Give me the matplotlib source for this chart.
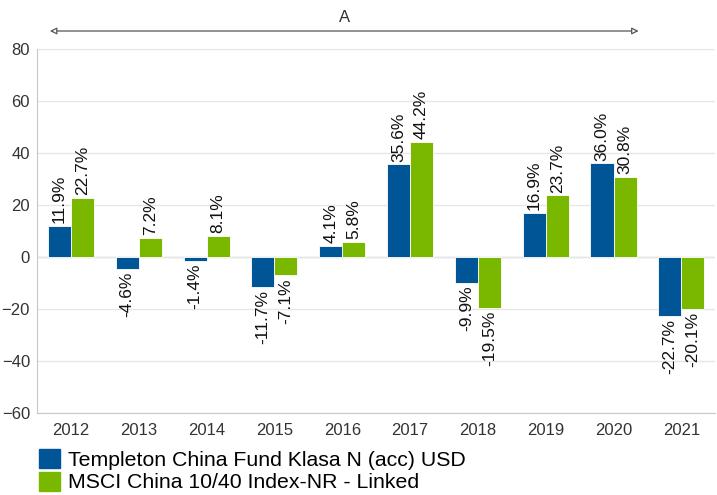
import numpy as np
import matplotlib
matplotlib.use('Agg')
import matplotlib.pyplot as plt
from matplotlib.patches import Patch
from matplotlib.transforms import blended_transform_factory

plt.rcParams['font.family'] = ['Liberation Sans', 'DejaVu Sans']

years = ['2012', '2013', '2014', '2015', '2016', '2017', '2018', '2019', '2020', '2021']
fund = [11.9, -4.6, -1.4, -11.7, 4.1, 35.6, -9.9, 16.9, 36.0, -22.7]
index = [22.7, 7.2, 8.1, -7.1, 5.8, 44.2, -19.5, 23.7, 30.8, -20.1]
names = ['Templeton China Fund Klasa N (acc) USD', 'MSCI China 10/40 Index-NR - Linked']
colors = ['#005596', '#7ab800']

fig = plt.figure(figsize=(7.17, 4.95), dpi=100)
ax = fig.add_axes([0.0516, 0.166, 0.946, 0.735])

x = np.arange(len(years))
w = 0.34
for off, vals, c in [(-w / 2, fund, colors[0]), (w / 2, index, colors[1])]:
    bars = ax.bar(x + off, vals, width=w, color=c, edgecolor='white', linewidth=0.6, zorder=3)
    for b, v in zip(bars, vals):
        xc = b.get_x() + b.get_width() / 2
        if v >= 0:
            ax.annotate(f'{v:.1f}%', (xc, v), xytext=(0, 2), textcoords='offset points',
                        rotation=90, ha='center', va='bottom', fontsize=12.5, color='#111111')
        else:
            ax.annotate(f'{v:.1f}%', (xc, v), xytext=(0, -2), textcoords='offset points',
                        rotation=90, ha='center', va='top', fontsize=12.5, color='#111111')

ax.set_xlim(-0.5, len(years) - 0.5)
ax.set_ylim(-60, 80)
ax.set_yticks(np.arange(-60, 81, 20))
ax.set_xticks(x)
ax.set_xticklabels(years)
ax.grid(axis='y', color='#e6e6e6', linewidth=1, zorder=0)
ax.axhline(0, color='#e0e0e0', linewidth=1, zorder=1)
for s in ['top', 'right']:
    ax.spines[s].set_visible(False)
ax.spines['left'].set_color('#c8c8c8')
ax.spines['bottom'].set_color('#c8c8c8')
ax.tick_params(length=0, labelsize=12, colors='#333333', pad=7)
ax.tick_params(axis='y', pad=5)

# range arrow with label A
trans = blended_transform_factory(ax.transData, fig.transFigure)
arr_y = 1 - 31 / 495
ax.annotate('', xy=(8.37, arr_y), xytext=(-0.31, arr_y),
            xycoords=trans, textcoords=trans,
            arrowprops=dict(arrowstyle='<|-|>', edgecolor='#555555', facecolor='white', lw=0.9,
                            mutation_scale=10, shrinkA=0, shrinkB=0),
            annotation_clip=False)
ax.text((8.37 - 0.31) / 2, 1 - 18 / 495, 'A', transform=trans,
        ha='center', va='center', fontsize=12, color='#333333')

handles = [Patch(color=c) for c in colors]
fig.legend(handles, names, loc='lower left', bbox_to_anchor=(0.042, -0.012), frameon=False,
           fontsize=15.3, handlelength=1.0, handleheight=1.0, handletextpad=0.4,
           labelspacing=0.1, borderaxespad=0)

fig.savefig('out.png', dpi=100)
